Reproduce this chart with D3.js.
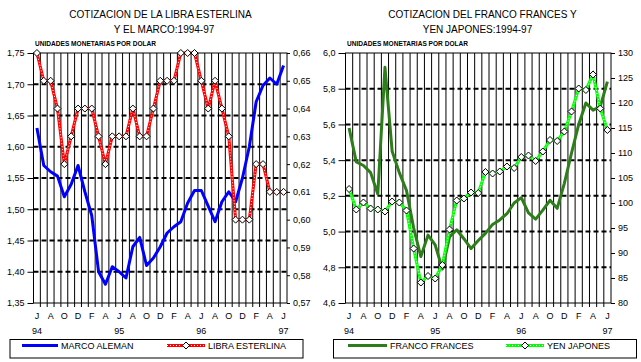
<!DOCTYPE html>
<html>
<head>
<meta charset="utf-8">
<script src="https://cdn.jsdelivr.net/npm/d3@7"></script>
<style>
  body { margin: 0; background: #fff; }
  svg { display: block; font-family: "Liberation Sans", Arial, sans-serif; }
</style>
</head>
<body>
<svg id="chart" width="641" height="362"></svg>
<script>
// months Jun 94 .. Jun 97
const months = ['1994-06','1994-07','1994-08','1994-09','1994-10','1994-11','1994-12',
  '1995-01','1995-02','1995-03','1995-04','1995-05','1995-06','1995-07','1995-08','1995-09',
  '1995-10','1995-11','1995-12','1996-01','1996-02','1996-03','1996-04','1996-05','1996-06',
  '1996-07','1996-08','1996-09','1996-10','1996-11','1996-12','1997-01','1997-02','1997-03',
  '1997-04','1997-05','1997-06'];
const monthLabels = ['J','A','O','D','F','A','J','A','O','D','F','A','J','A','O','D','F','A','J'];
const yearLabels = ['94','95','96','97'];

// left panel
const marco = [1.63,1.57,1.56,1.553,1.52,1.54,1.57,1.528,1.49,1.40,1.38,1.408,1.40,1.39,1.44,
  1.455,1.41,1.422,1.44,1.462,1.472,1.48,1.51,1.53,1.53,1.505,1.48,1.512,1.528,1.512,1.55,
  1.60,1.672,1.698,1.71,1.70,1.73];
const libra = [0.66,0.65,0.65,0.64,0.62,0.63,0.64,0.64,0.64,0.63,0.62,0.63,0.63,0.63,0.64,
  0.63,0.63,0.64,0.65,0.65,0.65,0.66,0.66,0.66,0.65,0.64,0.65,0.64,0.63,0.60,0.60,0.60,
  0.62,0.62,0.61,0.61,0.61];
const marcoTicks = [1.35,1.40,1.45,1.50,1.55,1.60,1.65,1.70,1.75];
const libraTicks = [0.57,0.58,0.59,0.60,0.61,0.62,0.63,0.64,0.65,0.66];

// right panel
const franco = [5.58,5.39,5.37,5.33,5.21,5.92,5.45,5.33,5.23,5.02,4.86,4.98,4.925,4.79,4.97,
  5.01,4.96,4.905,4.95,4.99,5.04,5.065,5.10,5.16,5.19,5.105,5.07,5.12,5.175,5.13,5.27,5.44,
  5.60,5.72,5.68,5.70,5.84];
const yen = [102.8,98.7,100.1,98.9,98.7,98.3,100.3,100.1,98.5,90.9,84.1,85.4,84.9,87.6,94.7,
  100.5,100.9,102.1,102.0,106.2,105.9,106.3,107.3,107.0,109.2,109.5,108.4,110.3,112.6,112.4,
  114.3,118.3,122.9,122.6,125.7,118.9,114.6];
const francoTicks = [4.6,4.8,5.0,5.2,5.4,5.6,5.8,6.0];
const yenTicks = [80,85,90,95,100,105,110,115,120,125,130];

const svg = d3.select('#chart');
const loc = d3.formatLocale({ decimal: ',', thousands: '.', grouping: [3], currency: ['', ''] });
const diamond = 'M0,-3.5L3.5,0L0,3.5L-3.5,0Z';

function panel(cfg) {
  const top = 53, bottom = 303;
  const x = d3.scaleBand().domain(months).range([cfg.x0, cfg.x1]).padding(0);
  const bw = x.bandwidth();
  const cx = (d, i) => x(months[i]) + bw / 2;
  const yL = d3.scaleLinear().domain(d3.extent(cfg.leftTicks)).range([bottom, top]);
  const yR = d3.scaleLinear().domain(d3.extent(cfg.rightTicks)).range([bottom, top]);

  const g = svg.append('g');

  // titles
  g.append('text').attr('x', cfg.t1x).attr('y', 18).attr('text-anchor', 'middle')
    .style('font-size', '10px').text(cfg.title1);
  g.append('text').attr('x', cfg.t2x).attr('y', 33).attr('text-anchor', 'middle')
    .style('font-size', '10px').text(cfg.title2);
  g.append('text').attr('x', cfg.x0 + 1.5).attr('y', 46)
    .style('font-size', '7px').style('font-weight', 'bold')
    .attr('textLength', 121).attr('lengthAdjust', 'spacingAndGlyphs')
    .text('UNIDADES MONETARIAS POR DOLAR');

  // horizontal dashed grid (left axis ticks)
  g.selectAll('line.hgrid')
    .data(cfg.leftTicks.slice(1, -1))
    .join('line')
      .attr('x1', cfg.x0).attr('x2', cfg.x1)
      .attr('y1', d => yL(d)).attr('y2', d => yL(d))
      .attr('stroke', '#000').attr('stroke-width', 2).attr('stroke-dasharray', '5,3');

  // vertical grid at month boundaries
  const bounds = months.slice(1).map(m => x(m));
  g.selectAll('line.vgrid')
    .data(bounds)
    .join('line')
      .attr('x1', d => d).attr('x2', d => d)
      .attr('y1', top).attr('y2', bottom + 4)
      .attr('stroke', '#000').attr('stroke-width', 1);

  // frame
  g.append('rect').attr('x', cfg.x0).attr('y', top)
    .attr('width', cfg.x1 - cfg.x0).attr('height', bottom - top)
    .attr('fill', 'none').attr('stroke', '#000').attr('stroke-width', 1);

  // axes
  const styleAxis = sel => {
    sel.select('.domain').remove();
    sel.selectAll('text').attr('fill', '#000').style('font-size', '9px')
      .style('font-family', '"Liberation Sans", Arial, sans-serif');
    sel.selectAll('line').attr('stroke', '#000');
  };
  g.append('g').attr('transform', `translate(${cfg.x0},0)`)
    .call(d3.axisLeft(yL).tickValues(cfg.leftTicks).tickSize(cfg.tl).tickPadding(3)
      .tickFormat(loc.format(cfg.leftFmt)))
    .call(styleAxis);
  g.append('g').attr('transform', `translate(${cfg.x1},0)`)
    .call(d3.axisRight(yR).tickValues(cfg.rightTicks).tickSize(cfg.tr).tickPadding(3)
      .tickFormat(loc.format(cfg.rightFmt)))
    .call(styleAxis);

  // month / year labels
  const evenMonths = months.filter((m, i) => i % 2 === 0);
  g.append('g').attr('transform', `translate(0,${bottom})`)
    .call(d3.axisBottom(x).tickValues(evenMonths).tickSize(0).tickPadding(10)
      .tickFormat((d, i) => monthLabels[i]))
    .call(styleAxis);
  const yearMonths = months.filter((m, i) => i % 12 === 0);
  g.selectAll('text.year')
    .data(yearMonths)
    .join('text')
      .attr('x', d => x(d) + bw / 2).attr('y', 334)
      .attr('text-anchor', 'middle').style('font-size', '9px')
      .text((d, i) => yearLabels[i]);

  // series
  const lineL = d3.line().x(cx).y(d => yL(d));
  const lineR = d3.line().x(cx).y(d => yR(d));
  const sL = cfg.solidOnLeft;
  g.append('path').datum(cfg.solid)
    .attr('d', sL ? lineL : lineR)
    .attr('fill', 'none').attr('stroke', cfg.solidColor).attr('stroke-width', 3)
    .attr('stroke-linejoin', 'round');
  const mLine = sL ? lineR : lineL;
  const my = sL ? yR : yL;
  g.append('path').datum(cfg.marked).attr('d', mLine)
    .attr('fill', 'none').attr('stroke', cfg.markColor).attr('stroke-width', 3);
  g.append('path').datum(cfg.marked).attr('d', mLine)
    .attr('fill', 'none').attr('stroke', '#fff').attr('stroke-width', 1)
    .attr('stroke-dasharray', '1,2');
  g.selectAll('path.mk')
    .data(cfg.marked)
    .join('path')
      .attr('d', diamond)
      .attr('transform', (d, i) => `translate(${cx(d, i)},${my(d)})`)
      .attr('fill', '#fff').attr('stroke', '#000').attr('stroke-width', 1);

  // legend
  const lg = cfg.legend;
  g.append('rect').attr('x', lg.x0).attr('y', 339.5).attr('width', lg.x1 - lg.x0).attr('height', 18.5)
    .attr('fill', 'none').attr('stroke', '#000').attr('stroke-width', 1);
  g.append('line').attr('x1', lg.a0).attr('x2', lg.a1).attr('y1', 345.5).attr('y2', 345.5)
    .attr('stroke', cfg.solidColor).attr('stroke-width', 3);
  g.append('text').attr('x', lg.a1 + 3).attr('y', 349).style('font-size', '9px').text(cfg.solidName);
  g.append('line').attr('x1', lg.b0).attr('x2', lg.b1).attr('y1', 345.5).attr('y2', 345.5)
    .attr('stroke', cfg.markColor).attr('stroke-width', 3);
  g.append('line').attr('x1', lg.b0).attr('x2', lg.b1).attr('y1', 345.5).attr('y2', 345.5)
    .attr('stroke', '#fff').attr('stroke-width', 1).attr('stroke-dasharray', '1,2');
  g.append('path').attr('d', diamond)
    .attr('transform', `translate(${(lg.b0 + lg.b1) / 2},345.5)`)
    .attr('fill', '#fff').attr('stroke', '#000');
  g.append('text').attr('x', lg.b1 + 3).attr('y', 349).style('font-size', '9px').text(cfg.markName);
}

panel({
  x0: 33.5, x1: 287,
  title1: 'COTIZACION DE LA LIBRA ESTERLINA', t1x: 160.5,
  title2: 'Y EL MARCO:1994-97', t2x: 164,
  leftTicks: marcoTicks, rightTicks: libraTicks, leftFmt: '.2f', rightFmt: '.2f',
  tl: 6, tr: 3,
  solid: marco, solidOnLeft: true, solidColor: '#0000ff', solidName: 'MARCO ALEMAN',
  marked: libra, markColor: '#ff0000', markName: 'LIBRA ESTERLINA',
  legend: { x0: 10, x1: 303, a0: 22, a1: 58, b0: 167, b1: 205 }
});

panel({
  x0: 345.5, x1: 611,
  title1: 'COTIZACION DEL FRANCO FRANCES Y', t1x: 482.5,
  title2: 'YEN JAPONES:1994-97', t2x: 477.5,
  leftTicks: francoTicks, rightTicks: yenTicks, leftFmt: '.1f', rightFmt: 'd',
  tl: 7, tr: 4,
  solid: franco, solidOnLeft: true, solidColor: '#2d7d1a', solidName: 'FRANCO FRANCES',
  marked: yen, markColor: '#00ff00', markName: 'YEN JAPONES',
  legend: { x0: 333.5, x1: 636.5, a0: 348, a1: 387, b0: 506, b1: 544 }
});
</script>
</body>
</html>
